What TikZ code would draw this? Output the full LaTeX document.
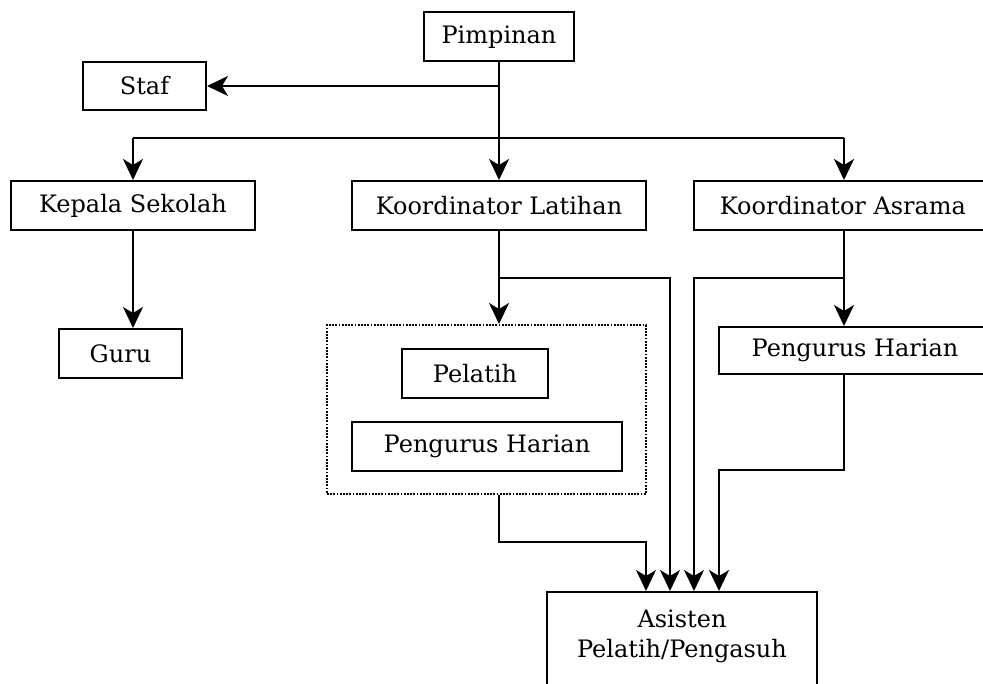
\documentclass[tikz,border=0pt]{standalone}
\usepackage{fontspec}
\setmainfont{DejaVu Serif}
\usetikzlibrary{arrows.meta}
\begin{document}
\begin{tikzpicture}[x=1pt,y=-1pt,
  box/.style={draw, line width=2pt, minimum height=49pt, inner sep=0pt,
              font=\fontsize{24}{30}\selectfont},
  lbl/.style={inner sep=0pt, align=center, font=\fontsize{24}{30}\selectfont},
  conn/.style={line width=2pt},
  arr/.style={conn, -{Stealth[length=21pt,width=20pt,inset=6pt]}},
  group/.style={draw, line width=2pt, dash pattern=on 1.8pt off 1.4pt},
]
\useasboundingbox (0,0) rectangle (983,684);

% boxes
\node[box, minimum width=150pt] (pimpinan) at (499,37) {Pimpinan};
\node[box, minimum width=123pt, minimum height=48pt] (staf) at (144.5,86) {Staf};
\node[box, minimum width=244pt] (kepala) at (133,205.5) {Kepala Sekolah};
\node[box, minimum width=294pt] (klatihan) at (499,205.5) {Koordinator Latihan};
\node[box, minimum width=298pt] (kasrama) at (843,205.5) {Koordinator Asrama};
\node[box, minimum width=123pt] (guru) at (120.5,353.5) {Guru};

\node[group, minimum width=319pt, minimum height=169pt, inner sep=0pt] (grp) at (486.5,409.5) {};
\node[box, minimum width=146pt] (pelatih) at (475,373.5) {Pelatih};
\node[box, minimum width=270pt] (phlatihan) at (487,446.5) {Pengurus Harian};
\node[box, minimum width=272pt, minimum height=47pt] (phasrama) at (855,350.5) {Pengurus Harian};

\node[box, minimum width=270pt, minimum height=120pt, anchor=north] (asisten) at (682,591) {};
\node[lbl] (asistentext) at (682,636) {Asisten\\Pelatih/Pengasuh};

% junction points
\coordinate (busL) at (133,138);
\coordinate (busM) at (499,138);
\coordinate (busR) at (844,138);
\coordinate (stafJ) at (499,86);
\coordinate (latJ) at (499,278);
\coordinate (latC) at (670,278);
\coordinate (asrJ) at (844,278);
\coordinate (asrC) at (694,278);
\coordinate (grpC1) at (499,542);
\coordinate (grpC2) at (646,542);
\coordinate (phC1) at (844,470);
\coordinate (phC2) at (719,470);

% top level
\draw[conn] (pimpinan.south -| busM) -- (busM);
\draw[arr] (stafJ) -- (staf.east);
\draw[conn] (busL) -- (busR);
\draw[arr] (busL) -- (kepala.north -| busL);
\draw[arr] (busM) -- (klatihan.north -| busM);
\draw[arr] (busR) -- (kasrama.north -| busR);
\draw[arr] (kepala.south -| busL) -- (guru.north -| busL);

% latihan branch
\draw[arr] (klatihan.south -| latJ) -- (grp.north -| latJ);
\draw[arr] (latJ) -- (latC) -- (asisten.north -| latC);
\draw[arr] (grp.south -| grpC1) -- (grpC1) -- (grpC2) -- (asisten.north -| grpC2);

% asrama branch
\draw[arr] (kasrama.south -| asrJ) -- (phasrama.north -| asrJ);
\draw[arr] (asrJ) -- (asrC) -- (asisten.north -| asrC);
\draw[arr] (phasrama.south -| phC1) -- (phC1) -- (phC2) -- (asisten.north -| phC2);
\end{tikzpicture}
\end{document}
